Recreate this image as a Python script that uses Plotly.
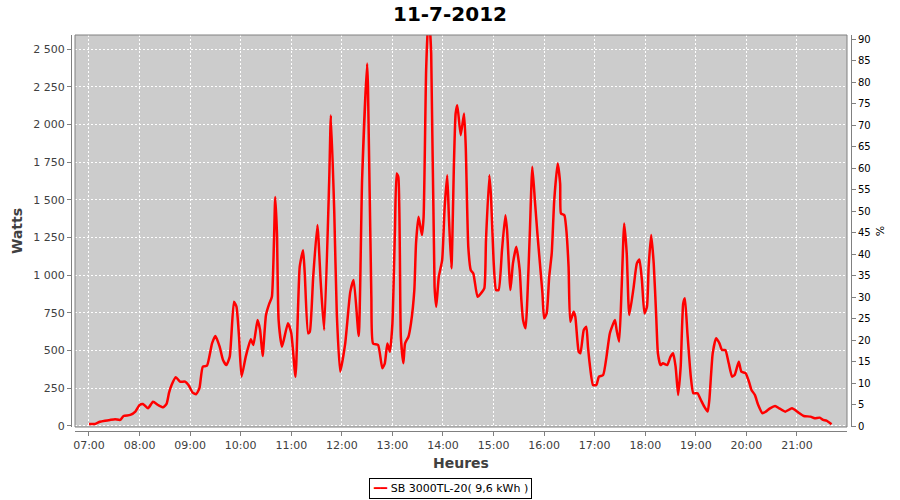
import plotly.graph_objects as go

date = "2012-07-11"
title_text = "11-7-2012"
series_name = "SB 3000TL-20( 9,6 kWh )"

times = [
    "07:00", "07:07", "07:13", "07:19", "07:25", "07:31", "07:37", "07:41", "07:49", "07:55",
    "08:00", "08:04", "08:10", "08:16", "08:22", "08:28", "08:32", "08:35", "08:38", "08:43",
    "08:48", "08:54", "08:58", "09:03", "09:07", "09:11", "09:15", "09:20", "09:26", "09:30",
    "09:35", "09:39", "09:43", "09:47", "09:52", "09:55", "09:58", "10:01", "10:06", "10:12",
    "10:15", "10:20", "10:23", "10:26", "10:30", "10:34", "10:37", "10:41", "10:43", "10:45",
    "10:49", "10:56", "11:00", "11:05", "11:10", "11:14", "11:16", "11:20", "11:22", "11:26",
    "11:31", "11:35", "11:39", "11:45", "11:47", "11:51", "11:54", "11:58", "12:04", "12:10",
    "12:14", "12:20", "12:24", "12:30", "12:31", "12:35", "12:37", "12:43", "12:48", "12:51",
    "12:54", "12:57", "13:00", "13:03", "13:05", "13:07", "13:10", "13:13", "13:15", "13:19",
    "13:22", "13:26", "13:28", "13:31", "13:35", "13:37", "13:40", "13:43", "13:46", "13:50",
    "13:52", "13:55", "13:59", "14:02", "14:05", "14:07", "14:10", "14:13", "14:15", "14:17",
    "14:21", "14:25", "14:27", "14:30", "14:33", "14:36", "14:41", "14:45", "14:49", "14:51",
    "14:55", "14:57", "15:00", "15:03", "15:06", "15:10", "15:14", "15:16", "15:20", "15:23",
    "15:27", "15:31", "15:33", "15:35", "15:38", "15:40", "15:43", "15:46", "15:49", "15:52",
    "15:55", "15:58", "16:00", "16:03", "16:06", "16:09", "16:12", "16:16", "16:19", "16:20",
    "16:24", "16:26", "16:29", "16:31", "16:35", "16:37", "16:41", "16:43", "16:47", "16:50",
    "16:52", "16:54", "16:58", "17:02", "17:05", "17:10", "17:14", "17:18", "17:24", "17:26",
    "17:29", "17:32", "17:35", "17:38", "17:41", "17:46", "17:50", "17:53", "17:56", "17:59",
    "18:02", "18:04", "18:07", "18:10", "18:13", "18:15", "18:18", "18:21", "18:26", "18:30",
    "18:33", "18:36", "18:39", "18:42", "18:45", "18:47", "18:50", "18:54", "18:57", "19:02",
    "19:06", "19:10", "19:14", "19:16", "19:20", "19:24", "19:28", "19:31", "19:35", "19:39",
    "19:43", "19:46", "19:49", "19:51", "19:54", "19:59", "20:03", "20:06", "20:10", "20:14",
    "20:19", "20:23", "20:28", "20:34", "20:39", "20:46", "20:54", "21:02", "21:08", "21:16",
    "21:21", "21:27", "21:31", "21:35", "21:41",
]

watts = [
    13, 13, 28, 35, 40, 44, 40, 66, 73, 95,
    139, 146, 117, 161, 139, 124, 146, 221, 272, 323,
    294, 294, 272, 221, 210, 250, 393, 400, 548, 597,
    526, 438, 404, 460, 824, 791, 592, 327, 460, 575,
    537, 703, 637, 464, 736, 813, 857, 1520, 1278, 700,
    526, 681, 615, 327, 1056, 1167, 1012, 615, 625, 990,
    1333, 946, 637, 1631, 2062, 1421, 747, 360, 548, 890,
    968, 597, 1631, 2405, 2250, 857, 548, 537, 383, 416,
    548, 493, 681, 1300, 1676, 1653, 592, 416, 548, 592,
    681, 902, 1212, 1388, 1267, 1388, 2361, 2750, 2471, 924,
    791, 990, 1101, 1454, 1664, 1388, 1046, 1742, 2074, 2129,
    1930, 2074, 1852, 1189, 1034, 1012, 857, 880, 913, 1233,
    1664, 1520, 1101, 902, 902, 1167, 1399, 1300, 902, 1079,
    1189, 1034, 835, 703, 648, 835, 1278, 1720, 1499, 1278,
    1079, 880, 714, 747, 990, 1145, 1499, 1742, 1609, 1410,
    1399, 1322, 1056, 692, 758, 725, 493, 482, 637, 658,
    526, 416, 272, 272, 327, 338, 460, 615, 703, 637,
    559, 924, 1344, 1145, 736, 913, 1079, 1105, 968, 747,
    791, 1056, 1267, 1079, 725, 482, 404, 416, 404, 460,
    482, 393, 206, 393, 813, 847, 615, 327, 217, 217,
    172, 128, 95, 172, 482, 582, 548, 504, 504, 416,
    327, 338, 393, 426, 360, 350, 294, 239, 206, 139,
    84, 95, 117, 133, 117, 95, 117, 88, 66, 62,
    51, 55, 40, 35, 11,
]

assert len(times) == len(watts)

x_range = [f"{date} 06:43:24", f"{date} 21:59:20"]
watts_range = [-7, 2595]
pct_range = [-0.23, 91.0]

x = [f"{date} {t}" for t in times]

FONT = "DejaVu Sans"
LINE_COLOR = "#ff0000"
W, H = 900, 500
L, R, T, B = 71, 851, 35, 431
gap = 4
pw, ph = R - L, B - T

fig = go.Figure()
fig.add_trace(go.Scatter(
    x=x, y=watts, mode="lines", name=series_name,
    line=dict(color=LINE_COLOR, width=2.5, shape="spline", smoothing=0.5),
    showlegend=False,
))
fig.add_trace(go.Scatter(x=[x[0]], y=[None], yaxis="y2", showlegend=False,
                         hoverinfo="skip", mode="lines"))

fig.update_layout(
    width=W, height=H,
    margin=dict(l=L, r=W - R, t=T, b=H - B, pad=0, autoexpand=False),
    paper_bgcolor="white",
    plot_bgcolor="#cccccc",
    separators=", ",
    showlegend=False,
    font=dict(family=FONT, color="#404040"),
    title=dict(text=f"<b>{title_text}</b>", x=0.5, xref="container", xanchor="center",
               y=1 - 14 / H, yref="container", yanchor="middle",
               font=dict(family=FONT, size=20, color="black")),
    xaxis=dict(
        type="date", domain=[gap / pw, 1 - gap / pw], anchor="free", position=0,
        automargin=False,
        range=x_range, tickformat="%H:%M", dtick=3600000, tick0=f"{date} 07:00",
        showline=True, linecolor="#808080", linewidth=1,
        ticks="outside", ticklen=4, tickcolor="#808080",
        tickfont=dict(family=FONT, size=11, color="#404040"),
        showgrid=True, gridcolor="white", gridwidth=1, griddash="2px,2px",
        zeroline=False,
        title=dict(text="<b>Heures</b>", standoff=6,
                   font=dict(family=FONT, size=14, color="#404040")),
    ),
    yaxis=dict(
        domain=[gap / ph, 1], anchor="free", position=0, automargin=False,
        range=watts_range, dtick=250, tick0=0, tickformat=",d",
        showline=True, linecolor="#808080", linewidth=1,
        ticks="outside", ticklen=4, tickcolor="#808080",
        tickfont=dict(family=FONT, size=11, color="#404040"),
        showgrid=True, gridcolor="white", gridwidth=1, griddash="2px,2px",
        zeroline=False,
        title=dict(text="<b>Watts</b>", standoff=6,
                   font=dict(family=FONT, size=14, color="#404040")),
    ),
    yaxis2=dict(
        overlaying="y", side="right", anchor="free", position=1, automargin=False,
        range=pct_range, dtick=5, tick0=0,
        showline=True, linecolor="#808080", linewidth=1,
        ticks="outside", ticklen=4, tickcolor="#808080",
        tickfont=dict(family=FONT, size=10, color="black"),
        showgrid=False, zeroline=False,
        title=dict(text="%", standoff=6, font=dict(family=FONT, size=11, color="black")),
    ),
    annotations=[dict(
        text=f"<span style='color:{LINE_COLOR}'>━━</span> {series_name}",
        xref="paper", yref="paper", x=(450 - L) / pw, y=(B - 488) / ph,
        xanchor="center", yanchor="middle", showarrow=False,
        font=dict(family=FONT, size=11, color="black"),
        bgcolor="white", bordercolor="black", borderwidth=1, borderpad=3,
    )],
    shapes=[dict(type="rect", xref="x domain", yref="y domain", x0=0, x1=1, y0=0, y1=1,
                 line=dict(color="#808080", width=1), layer="above")],
)

fig.write_html("out.html", config={"displayModeBar": False},
               post_script="document.body.style.margin='0px';")
